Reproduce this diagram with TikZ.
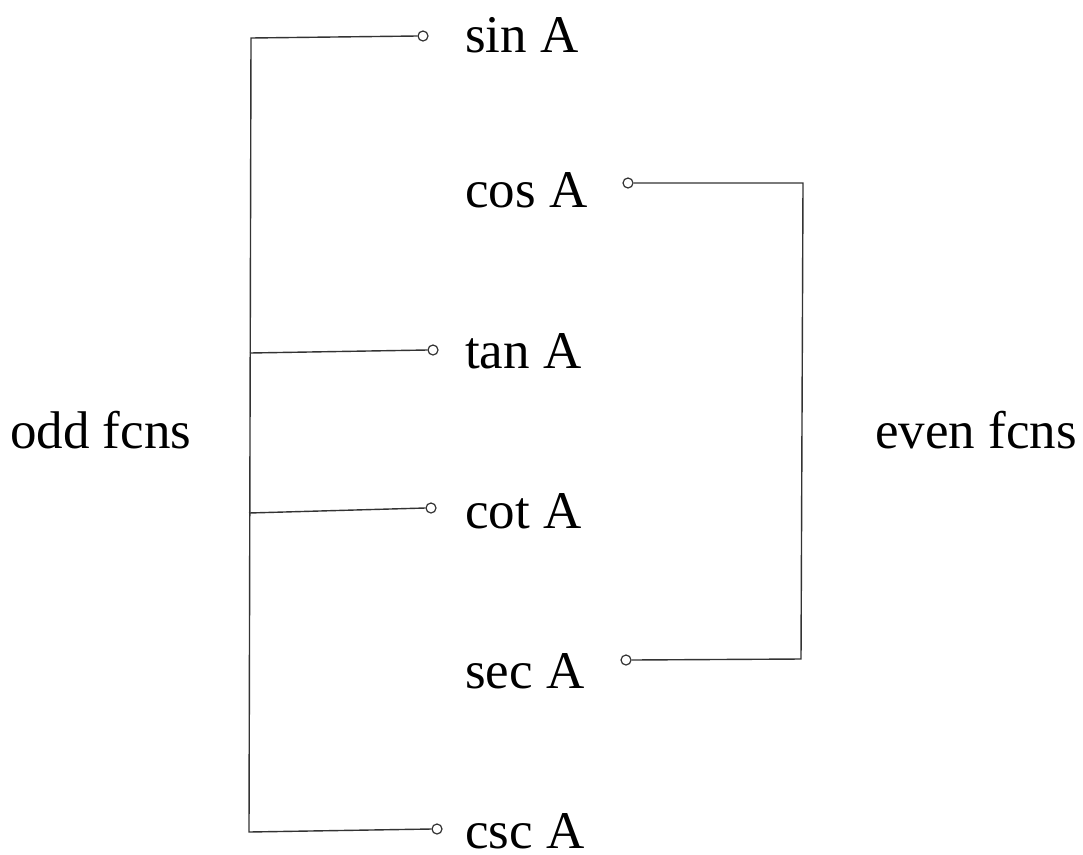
\documentclass[tikz,border=0pt]{standalone}
\usepackage{fontspec}
\setmainfont{Liberation Serif}
\begin{document}
\begin{tikzpicture}[x=1pt,y=-1pt,
  lbl/.style={anchor=base west,inner sep=0pt,font=\fontsize{53}{60}\selectfont},
  port/.style={circle,draw=black!80,fill=white,line width=1.2pt,minimum size=10pt,inner sep=0pt},
  wire/.style={draw=black!80,line width=1.4pt}]
\useasboundingbox (0,0) rectangle (1083,854);
% labels
\node[lbl] (sin) at (465,52) {sin A};
\node[lbl] (cos) at (465,207) {cos A};
\node[lbl] (tan) at (465,368) {tan A};
\node[lbl] (cot) at (465,528) {cot A};
\node[lbl] (sec) at (465,688) {sec A};
\node[lbl] (csc) at (465,848) {csc A};
\node[lbl] (odd) at (10,448) {odd fcns};
\node[lbl] (even) at (875,448) {even fcns};
% ports
\node[port] (psin) at (423,36) {};
\node[port] (ptan) at (433,350) {};
\node[port] (pcot) at (431,508) {};
\node[port] (pcsc) at (437,829) {};
\node[port] (pcos) at (628,183) {};
\node[port] (psec) at (626,660) {};
% corners
\coordinate (ltop) at (251,38);
\coordinate (ltan) at (250,353);
\coordinate (lcot) at (249,513);
\coordinate (lbot) at (249,832);
\coordinate (rtop) at (803,183);
\coordinate (rbot) at (801,659);
% wires
\path[wire] (psin.west) -- (ltop) -- (lbot) -- (pcsc.west);
\path[wire] (ltan) -- (ptan.west);
\path[wire] (lcot) -- (pcot.west);
\path[wire] (pcos.east) -- (rtop) -- (rbot) -- (psec.east);
\end{tikzpicture}
\end{document}
